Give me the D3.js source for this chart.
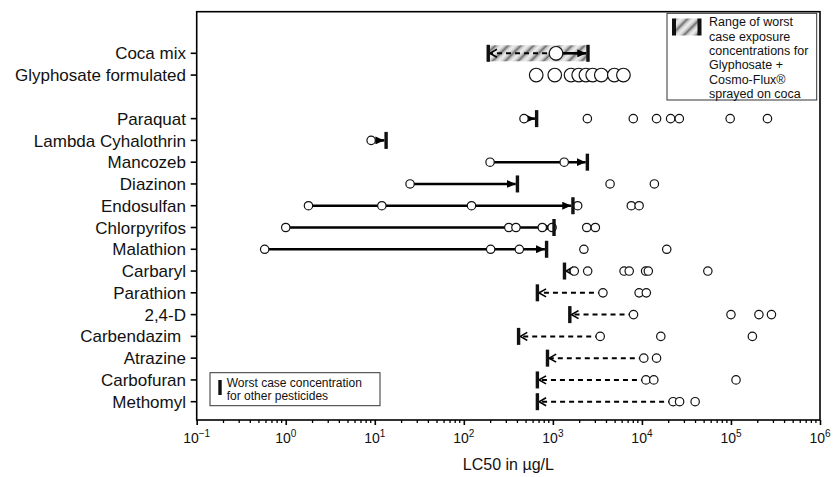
<!DOCTYPE html>
<html>
<head>
<meta charset="utf-8">
<script src="https://cdn.jsdelivr.net/npm/d3@7"></script>
<style>
  body { margin: 0; background: #fff; }
  svg { font-family: "Liberation Sans", Arial, sans-serif; }
</style>
</head>
<body>
<div id="chart"></div>
<script>
// rows, top to bottom (slot 2 is left empty in the original)
const categories = ['Coca mix', 'Glyphosate formulated', 'Paraquat', 'Lambda Cyhalothrin', 'Mancozeb',
  'Diazinon', 'Endosulfan', 'Chlorpyrifos', 'Malathion', 'Carbaryl', 'Parathion', '2,4-D',
  'Carbendazim ', 'Atrazine', 'Carbofuran', 'Methomyl']
const slots = [0, 1, 3, 4, 5, 6, 7, 8, 9, 10, 11, 12, 13, 14, 15, 16]

// LC50 values (µg/L) per row
const lc50 = [
  [1085],
  [650, 1050, 1600, 1950, 2350, 2800, 3500, 4900, 6200],
  [474, 2440, 8000, 14600, 21000, 26300, 98000, 257000],
  [9.1],
  [197, 1340],
  [24.9, 4390, 13800],
  [1.8, 12, 122, 1900, 7600, 9300],
  [1.0, 320, 385, 760, 980, 2400, 3000],
  [0.58, 200, 420, 2230, 19000],
  [1740, 2460, 6300, 7200, 11000, 11800, 55000],
  [3650, 9300, 11200],
  [8050, 100000, 206000, 285000],
  [3400, 16300, 174000],
  [10500, 14600],
  [11100, 13600, 114000],
  [22400, 26500, 39600]
]
// worst case exposure concentration (µg/L)
const worstCase = [null, null, 657, 13.4, 2440, 400, 1680, 1030, 850, 1350, 670, 1550, 412, 870, 670, 670]
// range of worst case exposure for glyphosate + Cosmo-Flux on coca
const cocaRange = [188, 2480]

const xTicks = [-1, 0, 1, 2, 3, 4, 5, 6]

const width = 834, height = 477
const svg = d3.select('#chart').append('svg')
  .attr('width', width).attr('height', height)

const plot = { left: 196.7, right: 820, top: 11.7, bottom: 420 }

const x = d3.scaleLog().domain([0.1, 1e6]).range([plot.left, plot.right])
const y = d3.scaleLinear().domain([0, 16]).range([53.3, 401.7])

const defs = svg.append('defs')
const grad = defs.append('linearGradient').attr('id', 'stripeGrad')
  .attr('x1', 0).attr('x2', 1).attr('y1', 0).attr('y2', 0)
grad.selectAll('stop')
  .data([[0, '#f2f2f2'], [0.3, '#c4c4c4'], [0.5, '#6e6e6e'], [0.7, '#c4c4c4'], [1, '#f2f2f2']])
  .enter().append('stop')
  .attr('offset', d => d[0]).attr('stop-color', d => d[1])
defs.append('pattern')
  .attr('id', 'hatch')
  .attr('patternUnits', 'userSpaceOnUse')
  .attr('width', 9).attr('height', 9)
  .attr('patternTransform', 'rotate(45)')
  .append('rect')
  .attr('width', 9).attr('height', 9)
  .attr('fill', 'url(#stripeGrad)')

defs.append('marker')
  .attr('id', 'headSolid')
  .attr('markerUnits', 'userSpaceOnUse')
  .attr('viewBox', '0 0 9 8')
  .attr('markerWidth', 9).attr('markerHeight', 8)
  .attr('refX', 9).attr('refY', 4)
  .attr('orient', 'auto')
  .append('path').attr('d', 'M0,0L9,4L0,8Z').attr('fill', '#000')
defs.append('marker')
  .attr('id', 'headOpen')
  .attr('markerUnits', 'userSpaceOnUse')
  .attr('viewBox', '-1 -1 9 10')
  .attr('markerWidth', 9).attr('markerHeight', 10)
  .attr('refX', 7).attr('refY', 4)
  .attr('orient', 'auto')
  .append('path').attr('d', 'M0,0L7,4L0,8').attr('fill', 'none')
  .attr('stroke', '#000').attr('stroke-width', 1.6)

// frame
svg.append('rect')
  .attr('x', plot.left).attr('y', plot.top)
  .attr('width', plot.right - plot.left).attr('height', plot.bottom - plot.top)
  .attr('fill', 'none').attr('stroke', '#000').attr('stroke-width', 1.6)

// x axis
const xAxis = svg.append('g')
  .attr('transform', 'translate(0,' + plot.bottom + ')')
  .call(d3.axisBottom(x).tickValues(xTicks.map(e => Math.pow(10, e))).tickSize(5).tickFormat(''))
xAxis.select('.domain').remove()
xAxis.selectAll('line').attr('stroke-width', 1.6)
const minor = []
xTicks.slice(0, -1).forEach(e => { for (let k = 2; k < 10; k++) minor.push(k * Math.pow(10, e)) })
svg.append('g')
  .attr('transform', 'translate(0,' + plot.bottom + ')')
  .selectAll('line.minor').data(minor).enter().append('line')
  .attr('x1', d => x(d)).attr('x2', d => x(d))
  .attr('y1', 0).attr('y2', 3)
  .attr('stroke', '#000').attr('stroke-width', 1.3)

const tickLabels = svg.append('g').selectAll('text').data(xTicks).enter().append('text')
  .attr('x', d => x(Math.pow(10, d)))
  .attr('y', plot.bottom + 23)
  .attr('text-anchor', 'middle')
  .attr('font-size', 14)
  .attr('fill', '#111')
tickLabels.append('tspan').text('10')
tickLabels.append('tspan').attr('font-size', 10).attr('dy', -6)
  .text(d => d < 0 ? '\u2212' + Math.abs(d) : d)

svg.append('text')
  .attr('x', (plot.left + plot.right) / 2)
  .attr('y', 470)
  .attr('text-anchor', 'middle')
  .attr('font-size', 16)
  .attr('fill', '#111')
  .text('LC50 in \u00b5g/L')

// y ticks and labels
svg.append('g').selectAll('line').data(slots).enter().append('line')
  .attr('x1', plot.left - 6).attr('x2', plot.left)
  .attr('y1', d => y(d)).attr('y2', d => y(d))
  .attr('stroke', '#000').attr('stroke-width', 1.6)
svg.append('g').selectAll('text').data(categories).enter().append('text')
  .attr('x', 186)
  .attr('y', (d, i) => y(slots[i]))
  .attr('dy', '0.36em')
  .attr('text-anchor', 'end')
  .attr('font-size', 17)
  .attr('fill', '#111')
  .style('white-space', 'pre')
  .text(d => d)

const marks = svg.append('g')

// coca mix range
const cocaY = y(slots[0])
marks.append('rect')
  .attr('x', x(cocaRange[0])).attr('y', cocaY - 8)
  .attr('width', x(cocaRange[1]) - x(cocaRange[0])).attr('height', 16)
  .attr('fill', 'url(#hatch)')

// arrows from lowest LC50 to the worst case concentration
function arrow(from, to, yy, solid) {
  marks.append('line')
    .attr('x1', x(from)).attr('x2', x(to) + (x(to) > x(from) ? -1.7 : 1.7))
    .attr('y1', yy).attr('y2', yy)
    .attr('stroke', '#000')
    .attr('stroke-width', solid ? 2.6 : 2)
    .attr('stroke-dasharray', solid ? null : '5,4')
    .attr('marker-end', solid ? 'url(#headSolid)' : 'url(#headOpen)')
}
arrow(lc50[0][0], cocaRange[0], cocaY, false)
arrow(lc50[0][0], cocaRange[1], cocaY, true)
worstCase.forEach((w, i) => {
  if (w === null) return
  const lo = d3.min(lc50[i])
  arrow(lo, w, y(slots[i]), lo < w)
})

// circles
lc50.forEach((vals, i) => {
  const big = i < 2
  marks.append('g').selectAll('circle').data(vals).enter().append('circle')
    .attr('cx', d => x(d)).attr('cy', y(slots[i]))
    .attr('r', big ? 6.8 : 4.2)
    .attr('fill', '#fff').attr('stroke', '#111').attr('stroke-width', 1.2)
})

// bars
const bars = cocaRange.map(v => ({ v: v, s: slots[0] }))
worstCase.forEach((w, i) => { if (w !== null) bars.push({ v: w, s: slots[i] }) })
marks.append('g').selectAll('rect').data(bars).enter().append('rect')
  .attr('x', d => x(d.v) - 1.7).attr('y', d => y(d.s) - 8.5)
  .attr('width', 3.4).attr('height', 17)
  .attr('fill', '#111')

// legend top right
const lg = svg.append('g')
lg.append('rect').attr('x', 667).attr('y', 13.3).attr('width', 149.7).attr('height', 86.7)
  .attr('fill', '#fff').attr('stroke', '#333').attr('stroke-width', 1)
lg.append('rect').attr('x', 675).attr('y', 18.5).attr('width', 23).attr('height', 17).attr('fill', 'url(#hatch)')
lg.append('rect').attr('x', 672).attr('y', 18.5).attr('width', 4).attr('height', 17).attr('fill', '#111')
lg.append('rect').attr('x', 697.5).attr('y', 18.5).attr('width', 4).attr('height', 17).attr('fill', '#111')
const legendLines = ['Range of worst', 'case exposure', 'concentrations for', 'Glyphosate +', 'Cosmo-Flux\u00ae', 'sprayed on coca']
lg.selectAll('text.l').data(legendLines).enter().append('text')
  .attr('x', 709).attr('y', (d, i) => 21.7 + i * 14.4)
  .attr('dy', '0.36em')
  .attr('font-size', 12.5)
  .attr('fill', '#111')
  .text(d => d)

// legend bottom left
const lb = svg.append('g')
lb.append('rect').attr('x', 210).attr('y', 372.7).attr('width', 170).attr('height', 33)
  .attr('fill', '#fff').attr('stroke', '#333').attr('stroke-width', 1)
lb.append('rect').attr('x', 218.3).attr('y', 380).attr('width', 3.4).attr('height', 15).attr('fill', '#111')
lb.selectAll('text').data(['Worst case concentration', 'for other pesticides']).enter().append('text')
  .attr('x', 226.7).attr('y', (d, i) => 382.7 + i * 13.4)
  .attr('dy', '0.36em')
  .attr('font-size', 12)
  .attr('fill', '#111')
  .text(d => d)
</script>
</body>
</html>
